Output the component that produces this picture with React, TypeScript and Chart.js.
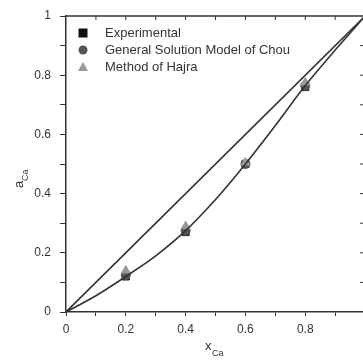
import React, { useEffect, useRef } from "react";
import { Chart, registerables } from "chart.js";
Chart.register(...registerables);

const diagX = [0, 1];
const diagY = [0, 1];
const curveX = [0, 0.1, 0.2, 0.3, 0.4, 0.5, 0.6, 0.7, 0.8, 0.9, 1];
const curveY = [0, 0.055, 0.12, 0.19, 0.275, 0.38, 0.5, 0.63, 0.765, 0.885, 1];
const expX = [0.2, 0.4, 0.6, 0.8];
const expY = [0.12, 0.27, 0.5, 0.76];
const chouY = [0.125, 0.275, 0.5, 0.765];
const hajraY = [0.14, 0.29, 0.505, 0.775];
const legendLabels = ["Experimental", "General Solution Model of Chou", "Method of Hajra"];
const xTicks = [0, 0.2, 0.4, 0.6, 0.8];
const yTicks = [0, 0.2, 0.4, 0.6, 0.8, 1];

const pts = (xs: number[], ys: number[]) => xs.map((x, i) => ({ x, y: ys[i] }));

const FONT = "'Liberation Sans', Arial, sans-serif";

const deco = {
  id: "deco",
  afterDraw(chart: any) {
    const { ctx, chartArea: a, scales } = chart;
    const xs = scales.x;
    const ys = scales.y;
    ctx.save();
    ctx.strokeStyle = "#333";
    ctx.lineWidth = 1.5;
    const rightX = xs.getPixelForValue(1);
    ctx.beginPath();
    ctx.moveTo(a.left, a.top);
    ctx.lineTo(rightX, a.top);
    ctx.moveTo(rightX, a.top);
    ctx.lineTo(rightX, a.bottom);
    ctx.stroke();
    ctx.lineWidth = 1;
    for (let i = 1; i < 10; i++) {
      const v = i / 10;
      const px = xs.getPixelForValue(v);
      ctx.beginPath();
      ctx.moveTo(px, a.top);
      ctx.lineTo(px, a.top + 4);
      ctx.stroke();
      const py = ys.getPixelForValue(v);
      ctx.beginPath();
      ctx.moveTo(rightX, py);
      ctx.lineTo(rightX - 5, py);
      ctx.stroke();
    }
    // legend
    const lx = 83;
    const ly = [33, 50, 67];
    ctx.fillStyle = "#111";
    ctx.fillRect(lx - 4.5, ly[0] - 4.5, 9, 9);
    ctx.fillStyle = "#555";
    ctx.beginPath();
    ctx.arc(lx, ly[1], 4.5, 0, Math.PI * 2);
    ctx.fill();
    ctx.fillStyle = "#999";
    ctx.beginPath();
    ctx.moveTo(lx, ly[2] - 5);
    ctx.lineTo(lx + 5, ly[2] + 4);
    ctx.lineTo(lx - 5, ly[2] + 4);
    ctx.closePath();
    ctx.fill();
    ctx.fillStyle = "#333";
    ctx.font = `13px ${FONT}`;
    ctx.textBaseline = "middle";
    ctx.textAlign = "left";
    legendLabels.forEach((t, i) => ctx.fillText(t, 105, ly[i]));
    // axis titles
    ctx.fillStyle = "#333";
    ctx.font = `13px ${FONT}`;
    ctx.textAlign = "left";
    ctx.textBaseline = "alphabetic";
    ctx.fillText("x", 205, 350);
    ctx.font = `9px ${FONT}`;
    ctx.fillText("Ca", 212, 356);
    ctx.translate(23, 188);
    ctx.rotate(-Math.PI / 2);
    ctx.font = `13px ${FONT}`;
    ctx.fillText("a", 0, 0);
    ctx.font = `9px ${FONT}`;
    ctx.fillText("Ca", 7, 5);
    ctx.restore();
  },
};

export default function App() {
  const ref = useRef<HTMLCanvasElement>(null);
  useEffect(() => {
    document.body.style.margin = "0";
    const chart = new Chart(ref.current!, {
      type: "scatter",
      data: {
        datasets: [
          {
            data: pts(diagX, diagY),
            showLine: true,
            borderColor: "#333",
            borderWidth: 1.6,
            pointRadius: 0,
          },
          {
            data: pts(curveX, curveY),
            showLine: true,
            borderColor: "#333",
            borderWidth: 1.6,
            pointRadius: 0,
            tension: 0.3,
          },
          {
            data: pts(expX, hajraY),
            pointStyle: "triangle",
            pointRadius: 5,
            backgroundColor: "#999",
            borderColor: "#999",
          },
          {
            data: pts(expX, chouY),
            pointStyle: "circle",
            pointRadius: 4.5,
            backgroundColor: "#555",
            borderColor: "#555",
          },
          {
            data: pts(expX, expY),
            pointStyle: "rect",
            pointRadius: 5,
            backgroundColor: "#222",
            borderColor: "#222",
          },
        ],
      },
      options: {
        animation: false,
        responsive: false,
        layout: { autoPadding: false, padding: { top: 16, right: 0, left: 0, bottom: 0 } },
        plugins: { legend: { display: false }, tooltip: { enabled: false } },
        scales: {
          x: {
            type: "linear",
            min: 0,
            max: 0.993,
            afterFit: (s: any) => {
              s.height = 50;
              s.paddingLeft = 0;
              s.paddingRight = 0;
            },
            afterBuildTicks: (s: any) => {
              s.ticks = [0, 0.1, 0.2, 0.3, 0.4, 0.5, 0.6, 0.7, 0.8, 0.9].map((v) => ({ value: v }));
            },
            ticks: {
              autoSkip: false,
              maxRotation: 0,
              color: "#333",
              font: { family: FONT, size: 12 },
              padding: 6,
              callback: (v: any) => {
                const f = xTicks.find((t) => Math.abs(t - v) < 1e-6);
                return f === undefined ? "" : String(f);
              },
            },
            grid: { drawOnChartArea: false, tickLength: 4, color: "#333", lineWidth: 1 },
            border: { color: "#333", width: 1.5 },
          },
          y: {
            type: "linear",
            min: 0,
            max: 1,
            afterFit: (s: any) => {
              s.width = 66;
              s.paddingTop = 0;
              s.paddingBottom = 0;
            },
            afterBuildTicks: (s: any) => {
              s.ticks = [0, 0.1, 0.2, 0.3, 0.4, 0.5, 0.6, 0.7, 0.8, 0.9, 1].map((v) => ({ value: v }));
            },
            ticks: {
              autoSkip: false,
              color: "#333",
              font: { family: FONT, size: 12 },
              padding: 9,
              callback: (v: any) => {
                const f = yTicks.find((t) => Math.abs(t - v) < 1e-6);
                return f === undefined ? "" : String(f);
              },
            },
            grid: { drawOnChartArea: false, tickLength: 6, color: "#333", lineWidth: 1 },
            border: { color: "#333", width: 1.5 },
          },
        },
      },
      plugins: [deco],
    });
    return () => chart.destroy();
  }, []);
  return (
    <div style={{ position: "fixed", left: 0, top: 0, width: 363, height: 362, background: "#fff", overflow: "hidden" }}>
      <canvas ref={ref} width={363} height={362} style={{ display: "block" }} />
    </div>
  );
}
